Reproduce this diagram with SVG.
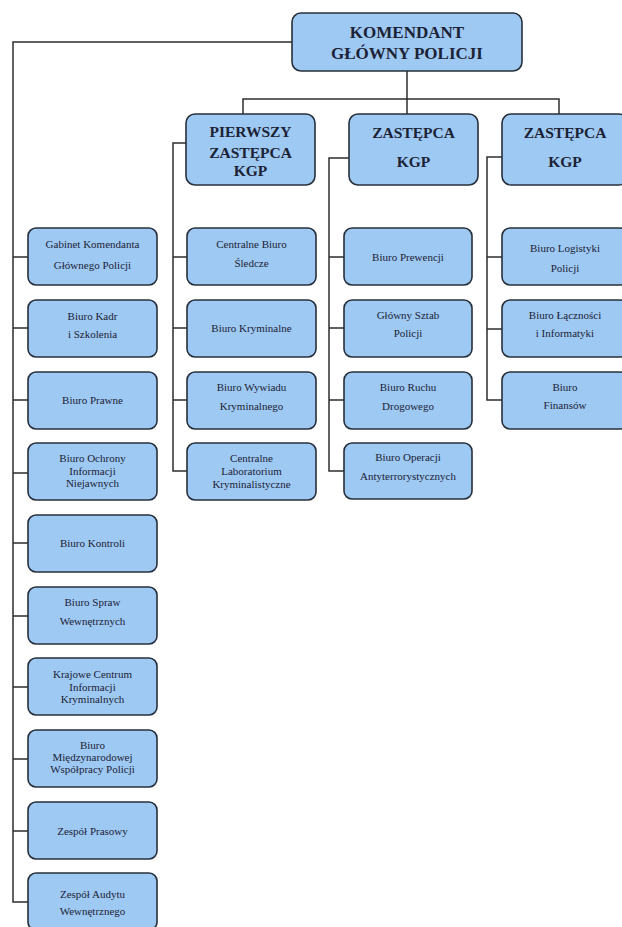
<svg xmlns="http://www.w3.org/2000/svg" width="622" height="927" viewBox="0 0 622 927">
<style>
.box{fill:#9ec9f3;stroke:#27303a;stroke-width:1.6}
.t{font-family:"Liberation Serif","Times New Roman",serif;font-size:11px;fill:#1c2235;text-anchor:middle}
.h{font-family:"Liberation Serif","Times New Roman",serif;font-weight:bold;fill:#1c2235;text-anchor:middle}
.c{fill:none;stroke:#2e2e2e;stroke-width:1.5}
</style>
<rect width="622" height="927" fill="#ffffff"/>
<g id="connectors">
<path class="c" d="M292 42H13V902H28"/>
<path class="c" d="M13 257H28M13 328H28M13 400H28M13 473H28M13 543H28M13 616H28M13 687H28M13 759H28M13 831H28"/>
<path class="c" d="M407 71V114M243 114V99H559V114"/>
<path class="c" d="M186 143H173V471H187M173 257H187M173 328H187M173 400H187"/>
<path class="c" d="M349 158H329V471H344M329 257H344M329 328H344M329 400H344"/>
<path class="c" d="M502 157H487V400H502M487 257H502M487 329H502"/>
</g>
<g id="kgp"><rect class="box" x="292" y="13" width="230" height="58" rx="9"/>
<text class="h" font-size="17" x="407" y="38">KOMENDANT</text><text class="h" font-size="17" x="407" y="59">GŁÓWNY POLICJI</text></g>
<g id="dep1"><rect class="box" x="186" y="114" width="129" height="71" rx="9"/>
<text class="h" font-size="15.5" x="250.5" y="137">PIERWSZY</text><text class="h" font-size="15.5" x="250.5" y="158">ZASTĘPCA</text><text class="h" font-size="15.5" x="250.5" y="176">KGP</text></g>
<g id="dep2"><rect class="box" x="349" y="114" width="129" height="71" rx="9"/>
<text class="h" font-size="15.5" x="413.5" y="138">ZASTĘPCA</text><text class="h" font-size="15.5" x="413.5" y="167">KGP</text></g>
<g id="dep3"><rect class="box" x="502" y="114" width="126" height="71" rx="9"/>
<text class="h" font-size="15.5" x="565" y="138">ZASTĘPCA</text><text class="h" font-size="15.5" x="565" y="167">KGP</text></g>

<g id="gabinet"><rect class="box" x="28" y="228" width="129" height="57" rx="8"/><text class="t" x="92.5" y="248">Gabinet Komendanta</text><text class="t" x="92.5" y="269">Głównego Policji</text></g>
<g id="kadr"><rect class="box" x="28" y="300" width="129" height="57" rx="8"/><text class="t" x="92.5" y="319.5">Biuro Kadr</text><text class="t" x="92.5" y="338">i Szkolenia</text></g>
<g id="prawne"><rect class="box" x="28" y="372" width="129" height="57" rx="8"/><text class="t" x="92.5" y="404">Biuro Prawne</text></g>
<g id="ochrony"><rect class="box" x="28" y="443" width="129" height="57" rx="8"/><text class="t" x="92.5" y="462">Biuro Ochrony</text><text class="t" x="92.5" y="475">Informacji</text><text class="t" x="92.5" y="487">Niejawnych</text></g>
<g id="kontroli"><rect class="box" x="28" y="515" width="129" height="57" rx="8"/><text class="t" x="92.5" y="547">Biuro Kontroli</text></g>
<g id="spraw"><rect class="box" x="28" y="587" width="129" height="57" rx="8"/><text class="t" x="92.5" y="606">Biuro Spraw</text><text class="t" x="92.5" y="625">Wewnętrznych</text></g>
<g id="krajowe"><rect class="box" x="28" y="658" width="129" height="57" rx="8"/><text class="t" x="92.5" y="678">Krajowe Centrum</text><text class="t" x="92.5" y="691">Informacji</text><text class="t" x="92.5" y="703">Kryminalnych</text></g>
<g id="miedzynarodowej"><rect class="box" x="28" y="730" width="129" height="57" rx="8"/><text class="t" x="92.5" y="749">Biuro</text><text class="t" x="92.5" y="761">Międzynarodowej</text><text class="t" x="92.5" y="773">Współpracy Policji</text></g>
<g id="prasowy"><rect class="box" x="28" y="802" width="129" height="57" rx="8"/><text class="t" x="92.5" y="835">Zespół Prasowy</text></g>
<g id="audytu"><rect class="box" x="28" y="873" width="129" height="57" rx="8"/><text class="t" x="92.5" y="898">Zespół Audytu</text><text class="t" x="92.5" y="915">Wewnętrznego</text></g>

<g id="cbs"><rect class="box" x="187" y="228" width="129" height="57" rx="8"/><text class="t" x="251.5" y="248">Centralne Biuro</text><text class="t" x="251.5" y="267">Śledcze</text></g>
<g id="kryminalne"><rect class="box" x="187" y="300" width="129" height="57" rx="8"/><text class="t" x="251.5" y="332">Biuro Kryminalne</text></g>
<g id="wywiadu"><rect class="box" x="187" y="372" width="129" height="57" rx="8"/><text class="t" x="251.5" y="391">Biuro Wywiadu</text><text class="t" x="251.5" y="410">Kryminalnego</text></g>
<g id="laboratorium"><rect class="box" x="187" y="443" width="129" height="57" rx="8"/><text class="t" x="251.5" y="462">Centralne</text><text class="t" x="251.5" y="475">Laboratorium</text><text class="t" x="251.5" y="488">Kryminalistyczne</text></g>

<g id="prewencji"><rect class="box" x="344" y="228" width="128" height="57" rx="8"/><text class="t" x="408" y="261">Biuro  Prewencji</text></g>
<g id="sztab"><rect class="box" x="344" y="300" width="128" height="57" rx="8"/><text class="t" x="408" y="319">Główny Sztab</text><text class="t" x="408" y="337">Policji</text></g>
<g id="ruchu"><rect class="box" x="344" y="372" width="128" height="57" rx="8"/><text class="t" x="408" y="391">Biuro Ruchu</text><text class="t" x="408" y="410">Drogowego</text></g>
<g id="operacji"><rect class="box" x="344" y="443" width="128" height="56" rx="8"/><text class="t" x="408" y="461">Biuro Operacji</text><text class="t" x="408" y="480">Antyterrorystycznych</text></g>

<g id="logistyki"><rect class="box" x="502" y="228" width="126" height="57" rx="8"/><text class="t" x="565" y="252">Biuro Logistyki</text><text class="t" x="565" y="272">Policji</text></g>
<g id="lacznosci"><rect class="box" x="502" y="300" width="126" height="57" rx="8"/><text class="t" x="565" y="319">Biuro Łączności</text><text class="t" x="565" y="337">i Informatyki</text></g>
<g id="finansow"><rect class="box" x="502" y="372" width="126" height="57" rx="8"/><text class="t" x="565" y="391">Biuro</text><text class="t" x="565" y="409">Finansów</text></g>
</svg>
